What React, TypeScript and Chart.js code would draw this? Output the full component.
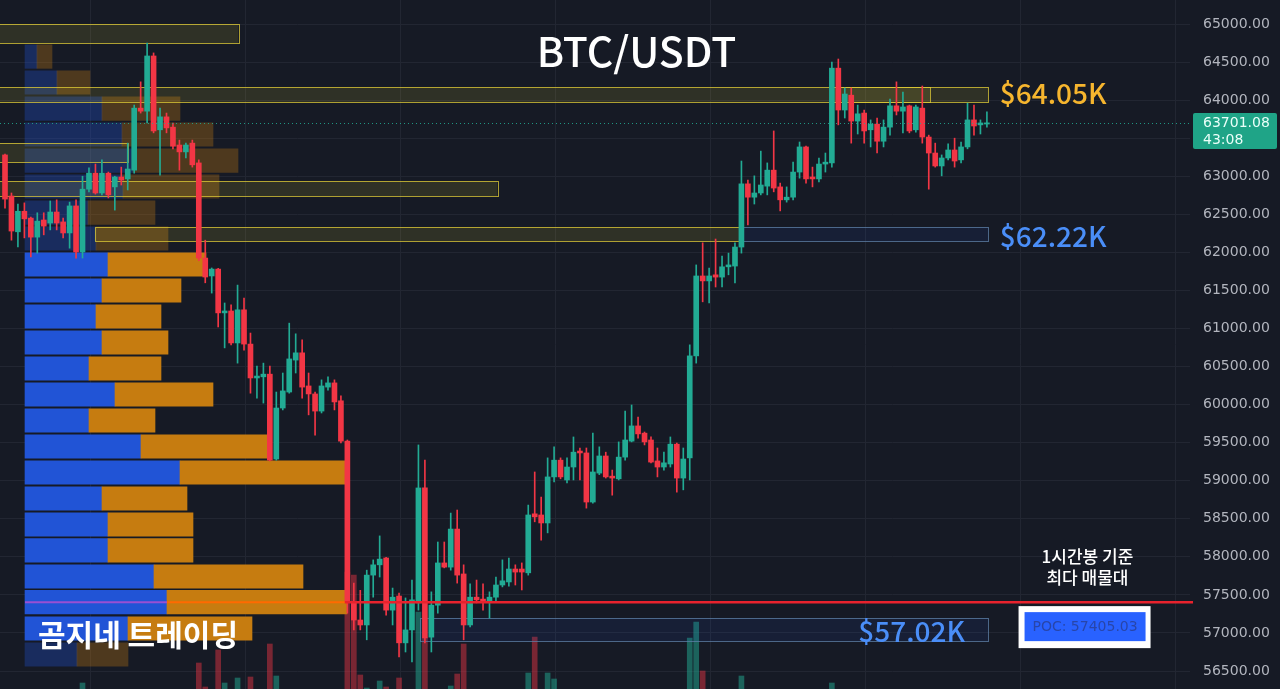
import React, { useEffect, useRef } from "react";
import { Chart, registerables } from "chart.js";

Chart.register(...registerables);

// ---------- data ----------
const OPEN = [63280,62740,62270,62540,62450,62200,62425,62385,62530,62400, 62255,62610,62005,62830,63040,62780,63040,62860,62990,62965, 63080,63895,63855,64580,63610,63780,63645,63410,63320,63435, 63175,61925,61690,61780,61205,61230,60810,61245,60795,60350, 60365,60400,59285,59955,60165,60585,60680,60245,60140,59915, 60230,60285,60050,59520,57410,57170,57105,57760,57895,57985, 57300,57485,56870,57040,57395,58905,56945,57365,57920,57865, 58365,57775,57105,57470,57445,57405,57470,57630,57670,57840, 57840,57790,58565,58550,58445,59050,59270,59010,59180,59390, 59365,58720,59100,59325,59060,59025,59310,59520,59720,59625, 59535,59260,59180,59220,59480,59035,59300,60640,61690,61625, 61705,61675,61810,61820,62070,62900,62725,62780,62870,63080, 62860,62690,62725,63055,63385,62990,62965,63160,63175,64420, 63870,64065,63725,63830,63610,63685,63460,63645,63925,63855, 63925,63610,63895,63515,63305,63135,63240,63345,63215,63385, 63740,63675,63686];
const HIGH = [63290,62780,62635,62650,62465,62520,62520,62675,62690,62450, 62660,62690,63000,63110,63160,63215,63055,63000,63120,63435, 63935,64240,64750,64620,63895,63830,63700,63475,63435,63475, 63215,62160,61795,61790,61335,61310,61570,61400,60940,60505, 60545,60505,60165,60415,61070,60930,60850,60415,60165,60325, 60365,60325,60115,59535,57655,57560,57825,57960,58275,57995, 57590,57525,57460,57695,59470,59270,57540,58195,58195,58575, 58615,57895,57645,57695,57645,57540,57735,57960,57985,57895, 57920,58680,59115,58785,59300,59445,59300,59300,59575,59430, 59430,59625,59445,59375,59140,59510,59915,59995,59835,59640, 59575,59430,59375,59575,59495,59430,60785,61835,62125,61795, 62175,61950,61990,62125,63200,62950,63005,63330,63175,63595, 62910,62860,63185,63450,63395,63120,63240,63305,64500,64540, 64160,64160,63935,63870,63740,63765,63740,64015,64240,64105, 63935,63935,64185,63540,63435,63280,63425,63500,63450,63960, 63935,63740,63845];
const LOW = [62580,62160,62070,62190,61940,61990,62230,62295,62295,62190, 62055,61925,61925,62795,62765,62755,62715,62555,62885,62820, 63040,63830,63700,63570,63015,63570,63360,63080,63240,63120, 61890,61600,61465,61020,60745,60785,60545,60715,60150,60085, 60020,59260,59270,59930,60150,60415,60085,59865,59600,59890, 60190,59930,59495,57260,57040,57040,56910,57470,57735,57235, 57105,56685,56750,56620,57300,56870,56750,57260,57855,57825, 57655,56910,57080,57395,57300,57195,57405,57605,57615,57630, 57565,57760,58460,58220,58315,58985,59025,58970,59010,59010, 58640,58705,59080,59035,58810,59010,59270,59510,59560,59470, 59235,59050,59140,59180,58850,58880,59010,60545,61350,61335, 61545,61545,61705,61600,61990,62360,62635,62755,62755,62795, 62545,62660,62690,62975,62910,62860,62925,63055,63120,63675, 63765,63435,63555,63435,63385,63305,63385,63540,63805,63570, 63570,63580,63435,62830,63120,63005,63215,63120,63175,63360, 63540,63555,63645];
const CLOSE = [62700,62280,62540,62440,62200,62410,62345,62530,62385,62255, 62610,62005,62830,63040,62780,63040,62755,62990,62950,63095, 63895,63855,64580,63595,63780,63635,63395,63320,63410,63150, 61925,61676,61780,61205,61230,60810,61245,60795,60350,60375, 60400,59270,59955,60180,60600,60680,60230,60140,59915,60245, 60285,60035,59520,57410,57170,57105,57760,57895,57970,57300, 57470,56870,57040,57435,58905,56935,57365,57920,57865,58365, 57760,57105,57470,57435,57405,57470,57630,57685,57840,57800, 57800,58550,58525,58445,59050,59270,59050,59180,59375,59365, 58720,59115,59325,59050,59035,59310,59535,59720,59615,59510, 59245,59180,59235,59480,59035,59285,60640,61690,61625,61690, 61675,61810,61835,62070,62900,62725,62780,62885,63080,62845, 62690,62725,63055,63385,62965,62965,63160,63185,64420,63870, 64080,63725,63820,63595,63685,63460,63645,63925,63855,63910, 63595,63910,63515,63305,63135,63240,63345,63200,63385,63740, 63660,63700,63701.08];
const VOLUME = [1200,1500,900,800,1100,950,700,850,900,750, 1300,1600,2150,1100,1000,1200,900,800,700,1400, 1900,1300,1950,1850,1200,900,1000,800,700,1100, 2650,2050,1300,2975,2150,1500,2275,1700,2300,1200, 1300,3125,2325,1500,1900,1100,1400,1000,1300,1100, 700,900,1800,4925,4850,2350,2025,1600,2200,2050, 1500,2275,1700,1900,3925,3275,1800,1600,900,2075, 2375,3125,1500,800,900,1000,1100,900,1000,700, 800,2400,3300,1700,2400,2250,1200,1000,1300,900, 1700,1900,1100,1000,900,1200,1500,1400,1000,800, 1200,1000,800,1100,1600,1500,3275,3675,2450,1500, 1600,1300,900,1700,2325,1600,1000,1400,1200,1800, 1300,700,1300,1500,1600,800,1000,700,2150,1900, 1200,1500,1000,1100,900,1200,900,1300,1100,900, 1100,1000,1400,1600,1100,900,800,1000,900,1500, 1000,600,400];

const PRICE_TICKS = [56500,57000,57500,58000,58500,59000,59500,60000,60500,61000,61500,62000,62500,63000,63500,64000,64500,65000];
const DAY_TICKS = [13.2, 37.2, 61.2, 85.2, 109.2, 133.2, 157.2, 181.2];

// volume profile (1h, buy / sell per price row)
const PROFILE_PRICES = [64572,64231,63889,63548,63206,62865,62523,62182,61840,61499,61157,60816,60474,60133,59791,59450,59108,58767,58425,58084,57742,57405,57059,56717];
const PROFILE_BUY = [120,320,770,970,1080,980,630,710,830,770,710,770,640,900,640,1160,1550,770,830,830,1290,1420,1030,520];
const PROFILE_SELL = [150,330,780,910,1050,960,670,720,980,790,650,660,720,980,660,1280,1650,850,850,850,1490,1800,1240,510];
const PROFILE_VALUE_AREA = [false,false,false,false,false,false,false,false,true,true,true,true,true,true,true,true,true,true,true,true,true,true,true,false];

const POC_PRICE = 57405.03;
const LAST_PRICE = 63701.08;
const COUNTDOWN = "43:08";

// zones (bar index range, price range)
const ZONE_FROM = [-5, -5, 127.7, -5, -5, 13.9, 114.1, 64.2];
const ZONE_TO = [36.1, 152.2, 143.2, 19.0, 76.2, 114.1, 152.2, 152.2];
const ZONE_LOW = [64750, 63975, 63975, 63187, 62740, 62149, 62149, 56894];
const ZONE_HIGH = [65000, 64172, 64172, 63436, 62935, 62333, 62333, 57197];
const ZONE_KIND = ["res", "res", "res", "res", "res", "res", "sup", "sup"];
const ZONE_LABEL = ["", "$64.05K", "", "", "", "", "$62.22K", "$57.02K"];
const ZONE_LABEL_AT = [0, 154, 0, 0, 0, 0, 154, 132.1];

// ---------- styles ----------
const BG = "#161a25";
const GRID = "#222632";
const UP = "#22ab94";
const DOWN = "#f23645";
const BLUE = "#2154d6";
const ORANGE = "#c67c10";

const candleColor = OPEN.map((o, i) => (CLOSE[i] >= o ? UP : DOWN));
const volColor = OPEN.map((o, i) => (CLOSE[i] >= o ? "rgba(34,171,148,0.5)" : "rgba(242,54,69,0.45)"));

const overlay = {
  id: "overlay",
  beforeDatasetDraw(chart: any, args: any) {
    if (args.index !== 1) return;
    const { ctx, chartArea, scales } = chart;
    const x = scales.x, y = scales.y;
    ctx.save();
    ctx.beginPath();
    ctx.rect(chartArea.left, chartArea.top, chartArea.right - chartArea.left, chartArea.bottom - chartArea.top);
    ctx.clip();
    for (let k = 0; k < ZONE_FROM.length; k++) {
      const x0 = x.getPixelForValue(ZONE_FROM[k]);
      const x1 = x.getPixelForValue(ZONE_TO[k]);
      const y0 = y.getPixelForValue(ZONE_HIGH[k]);
      const y1 = y.getPixelForValue(ZONE_LOW[k]);
      const res = ZONE_KIND[k] === "res";
      ctx.fillStyle = res ? "rgba(255,235,59,0.11)" : "rgba(41,98,255,0.08)";
      ctx.fillRect(x0, y0, x1 - x0, y1 - y0);
      ctx.strokeStyle = res ? "rgba(225,205,55,0.75)" : "rgba(95,130,170,0.75)";
      ctx.lineWidth = 1;
      ctx.strokeRect(Math.round(x0) + 0.5, Math.round(y0) + 0.5, Math.round(x1 - x0), Math.round(y1 - y0));
    }
    ctx.restore();
  },
  afterDatasetsDraw(chart: any) {
    const { ctx, chartArea, scales } = chart;
    const x = scales.x, y = scales.y, xp = scales.xp;
    ctx.save();

    // profile POC line
    const pocRow = PROFILE_PRICES.indexOf(57405);
    const py = y.getPixelForValue(POC_PRICE);
    ctx.lineWidth = 2;
    ctx.strokeStyle = "#9a4fd2";
    ctx.beginPath();
    ctx.moveTo(xp.getPixelForValue(0), py);
    ctx.lineTo(xp.getPixelForValue(PROFILE_BUY[pocRow]), py);
    ctx.stroke();
    ctx.strokeStyle = "#ff6a00";
    ctx.beginPath();
    ctx.moveTo(xp.getPixelForValue(PROFILE_BUY[pocRow]), py);
    ctx.lineTo(xp.getPixelForValue(PROFILE_BUY[pocRow] + PROFILE_SELL[pocRow]), py);
    ctx.stroke();

    // POC red line
    ctx.strokeStyle = "#e8222d";
    ctx.lineWidth = 2.5;
    ctx.beginPath();
    ctx.moveTo(x.getPixelForValue(52.6), py);
    ctx.lineTo(chartArea.right + 3, py);
    ctx.stroke();

    // last price dotted line
    const ly = Math.round(y.getPixelForValue(LAST_PRICE)) + 0.5;
    ctx.strokeStyle = "rgba(34,171,148,0.85)";
    ctx.lineWidth = 1;
    ctx.setLineDash([1, 3]);
    ctx.beginPath();
    ctx.moveTo(chartArea.left, ly);
    ctx.lineTo(chartArea.right, ly);
    ctx.stroke();
    ctx.setLineDash([]);

    // zone labels
    ctx.textBaseline = "middle";
    ctx.textAlign = "left";
    ctx.font = "500 28px 'Noto Sans CJK KR', 'Noto Sans', sans-serif";
    for (let k = 0; k < ZONE_LABEL.length; k++) {
      if (!ZONE_LABEL[k]) continue;
      const res = ZONE_KIND[k] === "res";
      ctx.fillStyle = res ? "#f6b52e" : "#4a8ef8";
      const mid = (ZONE_LOW[k] + ZONE_HIGH[k]) / 2;
      ctx.fillText(ZONE_LABEL[k], x.getPixelForValue(ZONE_LABEL_AT[k]), y.getPixelForValue(mid) + (res ? -1 : 2));
    }

    // title
    ctx.fillStyle = "#ffffff";
    ctx.textAlign = "center";
    ctx.textBaseline = "alphabetic";
    ctx.font = "500 41px 'Noto Sans CJK KR', 'Noto Sans', sans-serif";
    ctx.fillText("BTC/USDT", 636.5, 67);

    // watermark
    ctx.textAlign = "left";
    ctx.font = "bold 30px 'Noto Sans CJK KR', sans-serif";
    ctx.fillText("곰지네 트레이딩", 38, 646);

    // POC note
    const cx = x.getPixelForValue(167.1);
    ctx.textAlign = "center";
    ctx.font = "500 17px 'Noto Sans CJK KR', sans-serif";
    ctx.fillText("1시간봉 기준", cx + 3, 563);
    ctx.fillText("최다 매물대", cx + 3, 584);

    // POC box
    const bx = x.getPixelForValue(156.9);
    const bw = 132;
    const by = py + 4;
    ctx.fillStyle = "#ffffff";
    ctx.fillRect(bx, by, bw, 42);
    ctx.fillStyle = "#2962ff";
    ctx.fillRect(bx + 6, by + 6, bw - 11, 29);
    ctx.fillStyle = "rgba(40,60,140,0.75)";
    ctx.font = "14px 'DejaVu Sans', sans-serif";
    ctx.textBaseline = "middle";
    ctx.fillText("POC: " + POC_PRICE.toFixed(2), bx + 6 + (bw - 11) / 2, by + 21);

    // last price label on axis
    const lx = chartArea.right + 3;
    ctx.fillStyle = "#1fa487";
    ctx.beginPath();
    if (ctx.roundRect) ctx.roundRect(lx, ly - 10.5, 84, 36, 2);
    else ctx.rect(lx, ly - 10.5, 84, 36);
    ctx.fill();
    ctx.fillStyle = "#eafff9";
    ctx.textAlign = "left";
    ctx.textBaseline = "middle";
    ctx.font = "14px 'DejaVu Sans', sans-serif";
    ctx.fillText(LAST_PRICE.toFixed(2), chartArea.right + 13, ly);
    ctx.fillText(COUNTDOWN, chartArea.right + 13, ly + 17);

    ctx.restore();
  },
};

const hiddenAxis = (extra: any) => ({
  type: "linear",
  display: true,
  offset: false,
  grid: { display: false, drawTicks: false, offset: false },
  border: { display: false },
  ticks: { display: false },
  ...extra,
});

export default function App() {
  const ref = useRef<HTMLCanvasElement | null>(null);

  useEffect(() => {
    if (!ref.current) return;
    const chart = new Chart(ref.current, {
      type: "bar",
      data: {
        datasets: [
          {
            label: "body",
            data: OPEN.map((o, i) => ({ x: i, y: [o, CLOSE[i]] })) as any,
            backgroundColor: candleColor,
            barThickness: 5,
            grouped: false,
            minBarLength: 1,
            borderWidth: 0,
            xAxisID: "x",
            yAxisID: "y",
            order: 1,
          } as any,
          {
            label: "wick",
            data: LOW.map((l, i) => ({ x: i, y: [l, HIGH[i]] })) as any,
            backgroundColor: candleColor,
            barThickness: 1,
            grouped: false,
            borderWidth: 0,
            xAxisID: "x",
            yAxisID: "y",
            order: 2,
          } as any,
          {
            label: "sell",
            indexAxis: "y",
            data: PROFILE_PRICES.map((p, k) => ({ x: [PROFILE_BUY[k], PROFILE_BUY[k] + PROFILE_SELL[k]], y: p })) as any,
            backgroundColor: PROFILE_VALUE_AREA.map((v) => (v ? ORANGE : "rgba(198,124,16,0.32)")),
            barThickness: 23.5,
            grouped: false,
            borderWidth: 0,
            xAxisID: "xp",
            yAxisID: "y",
            order: 3,
          } as any,
          {
            label: "buy",
            indexAxis: "y",
            data: PROFILE_PRICES.map((p, k) => ({ x: [0, PROFILE_BUY[k]], y: p })) as any,
            backgroundColor: PROFILE_VALUE_AREA.map((v) => (v ? BLUE : "rgba(33,84,214,0.32)")),
            barThickness: 23.5,
            grouped: false,
            borderWidth: 0,
            xAxisID: "xp",
            yAxisID: "y",
            order: 3,
          } as any,
          {
            label: "volume",
            data: VOLUME.map((v, i) => ({ x: i, y: v })) as any,
            backgroundColor: volColor,
            barThickness: 5,
            grouped: false,
            borderWidth: 0,
            xAxisID: "x",
            yAxisID: "yv",
            order: 5,
          } as any,
        ],
      },
      options: {
        animation: false,
        responsive: true,
        maintainAspectRatio: false,
        devicePixelRatio: 1,
        events: [],
        layout: { padding: 0, autoPadding: false },
        plugins: { legend: { display: false }, tooltip: { enabled: false }, title: { display: false } },
        scales: {
          x: {
            type: "linear",
            position: "bottom",
            min: -0.774,
            max: 183.44,
            offset: false,
            grid: { color: GRID, drawTicks: false, offset: false },
            border: { display: false },
            ticks: { display: false },
            afterBuildTicks: (s: any) => { s.ticks = DAY_TICKS.map((v) => ({ value: v })); },
            afterFit: (s: any) => { s.height = 0; },
          },
          y: {
            type: "linear",
            position: "right",
            min: 56263.8,
            max: 65315.3,
            offset: false,
            grid: { color: GRID, drawTicks: true, tickLength: 13, tickColor: "rgba(0,0,0,0)", offset: false },
            border: { display: false },
            ticks: {
              color: "#b2b5be",
              padding: 0,
              font: { family: "'DejaVu Sans', sans-serif", size: 14, lineHeight: 0.01 },
              callback: (v: any) => Number(v).toFixed(2),
            },
            afterBuildTicks: (s: any) => { s.ticks = PRICE_TICKS.map((v) => ({ value: v })); },
            afterFit: (s: any) => { s.width = 90; s.paddingTop = 0; s.paddingBottom = 0; },
          },
          xp: hiddenAxis({ position: "bottom", min: -250, max: 11650, afterFit: (s: any) => { s.height = 0; } }),
          yv: hiddenAxis({ position: "left", min: 2000, max: 19225, afterFit: (s: any) => { s.width = 0; } }),
        },
      } as any,
      plugins: [overlay],
    });
    return () => chart.destroy();
  }, []);

  return (
    <div style={{ position: "fixed", left: 0, top: 0, width: 1280, height: 689, background: BG }}>
      <canvas ref={ref} />
    </div>
  );
}
